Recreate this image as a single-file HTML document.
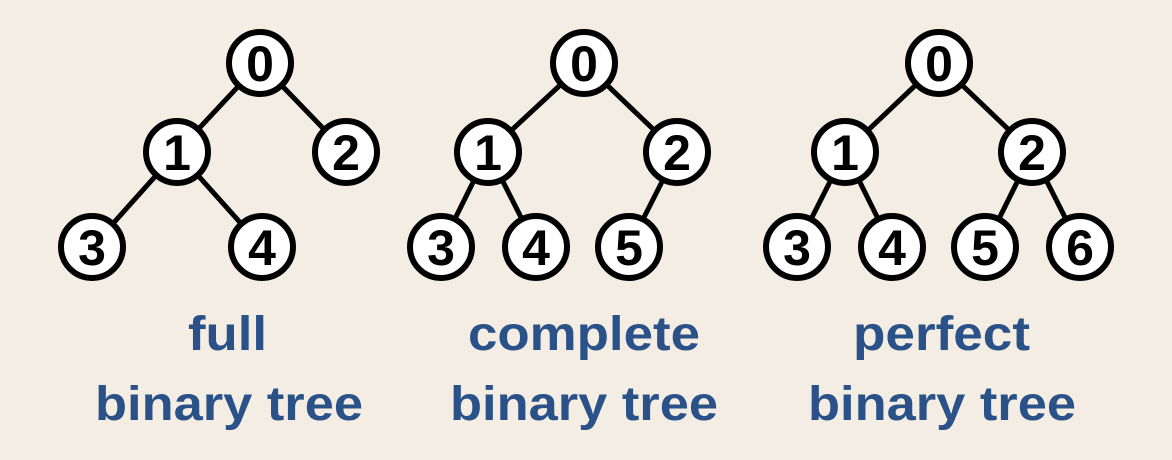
<!DOCTYPE html>
<html><head><style>
html,body{margin:0;padding:0;background:#f3ede4;}
svg{display:block}
</style></head><body>
<svg width="1172" height="460" viewBox="0 0 1172 460" xmlns="http://www.w3.org/2000/svg">
<rect width="1172" height="460" fill="#f3ede4"/>
<g stroke="#000" stroke-width="5" fill="none">
<line x1="260" y1="63" x2="177" y2="152"/><line x1="260" y1="63" x2="346" y2="152"/>
<line x1="177" y1="152" x2="92" y2="247"/><line x1="177" y1="152" x2="262" y2="247"/>
<line x1="584" y1="63" x2="488" y2="152"/><line x1="584" y1="63" x2="677" y2="152"/>
<line x1="488" y1="152" x2="441" y2="247"/><line x1="488" y1="152" x2="536" y2="247"/>
<line x1="677" y1="152" x2="629" y2="247"/>
<line x1="939" y1="63" x2="845" y2="152"/><line x1="939" y1="63" x2="1032" y2="152"/>
<line x1="845" y1="152" x2="797" y2="247"/><line x1="845" y1="152" x2="892" y2="247"/>
<line x1="1032" y1="152" x2="985" y2="247"/><line x1="1032" y1="152" x2="1080" y2="247"/>
</g>
<g stroke="#000" stroke-width="6" fill="#fff">
<circle cx="260" cy="63" r="31"/><circle cx="177" cy="152" r="31"/><circle cx="346" cy="152" r="31"/>
<circle cx="92" cy="247" r="31"/><circle cx="262" cy="247" r="31"/>
<circle cx="584" cy="63" r="31"/><circle cx="488" cy="152" r="31"/><circle cx="677" cy="152" r="31"/>
<circle cx="441" cy="247" r="31"/><circle cx="536" cy="247" r="31"/><circle cx="629" cy="247" r="31"/>
<circle cx="939" cy="63" r="31"/><circle cx="845" cy="152" r="31"/><circle cx="1032" cy="152" r="31"/>
<circle cx="797" cy="247" r="31"/><circle cx="892" cy="247" r="31"/><circle cx="985" cy="247" r="31"/><circle cx="1080" cy="247" r="31"/>
</g>
<g font-family="Liberation Sans, sans-serif" font-size="50" font-weight="bold" fill="#000" text-anchor="middle">
<text x="260" y="81">0</text><text x="177" y="170">1</text><text x="346" y="170">2</text>
<text x="92" y="265">3</text><text x="262" y="265">4</text>
<text x="584" y="81">0</text><text x="488" y="170">1</text><text x="677" y="170">2</text>
<text x="441" y="265">3</text><text x="536" y="265">4</text><text x="629" y="265">5</text>
<text x="939" y="81">0</text><text x="845" y="170">1</text><text x="1032" y="170">2</text>
<text x="797" y="265">3</text><text x="892" y="265">4</text><text x="985" y="265">5</text><text x="1080" y="265">6</text>
</g>
<g font-family="Liberation Sans, sans-serif" font-size="48" font-weight="bold" fill="#2a5288">
<text x="188" y="350" textLength="79" lengthAdjust="spacingAndGlyphs">full</text>
<text x="95" y="420" textLength="268" lengthAdjust="spacingAndGlyphs">binary tree</text>
<text x="468" y="350" textLength="232" lengthAdjust="spacingAndGlyphs">complete</text>
<text x="450" y="420" textLength="268" lengthAdjust="spacingAndGlyphs">binary tree</text>
<text x="853" y="350" textLength="177" lengthAdjust="spacingAndGlyphs">perfect</text>
<text x="808" y="420" textLength="268" lengthAdjust="spacingAndGlyphs">binary tree</text>
</g>
</svg>
</body></html>
